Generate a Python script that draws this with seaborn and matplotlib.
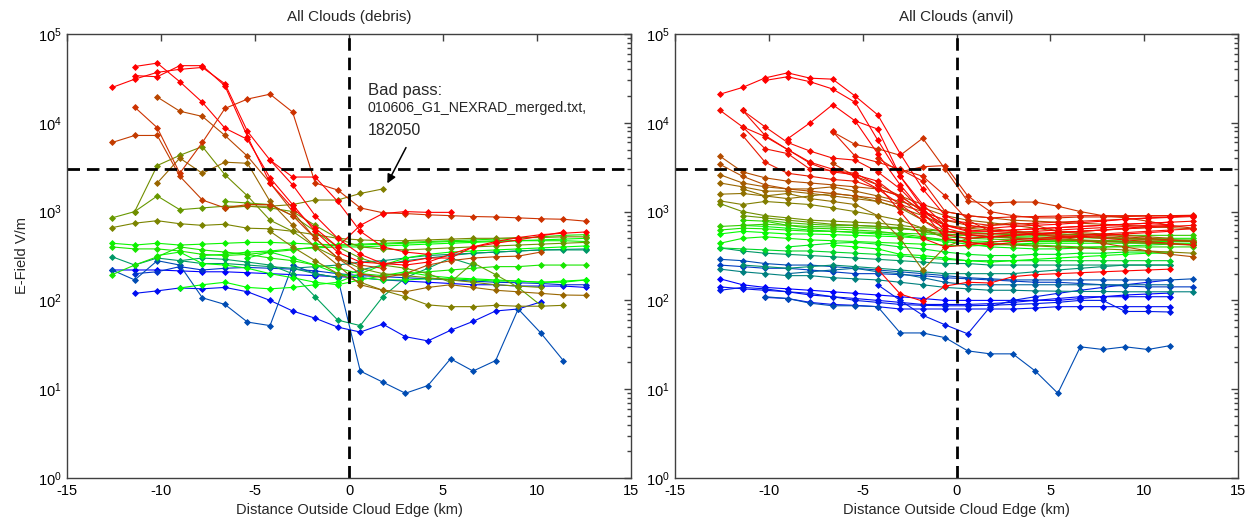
import numpy as np
import pandas as pd
import seaborn as sns
import matplotlib
matplotlib.use('Agg')
import matplotlib.pyplot as plt
from matplotlib.colors import LinearSegmentedColormap
from matplotlib.ticker import FixedLocator, FixedFormatter, NullFormatter

nan = np.nan

# distance bins (km), shared by every pass
x_km = [-12.6, -11.4, -10.2, -9.0, -7.8, -6.6, -5.4, -4.2, -3.0, -1.8, -0.6,
        0.6, 1.8, 3.0, 4.2, 5.4, 6.6, 7.8, 9.0, 10.2, 11.4, 12.6]

# ---- debris passes (E-field, V/m) ----
d01 = [25000, 31000, 37000, 40000, 42000, 27500, 8000, 3800, 2000, 900, 500, 330, 260, 250, 270, 330, 400, 460, 510, 550, 570, 590]
d02 = [nan, 43000, 47000, 29000, 17000, 8700, 6500, 2400, 1200, 600, 350, 270, 260, 270, 300, 300, 400, 440, 480, 530, 590, nan]
d03 = [nan, 34000, 33000, 44000, 44000, 26000, 7000, 2100, 1100, 650, 400, 700, 950, 1000, 980, 980, nan, nan, nan, nan, nan, nan]
d04 = [nan, 15000, 8800, 2700, 6000, 14500, 18500, 21000, 13200, 2100, 1750, 1100, 970, 950, 920, 900, 880, 870, 850, 830, 820, 780]
d05 = [6000, 7200, 7200, 2500, 1350, 1100, 1200, 1200, 900, 500, 300, 250, 230, nan, nan, nan, nan, nan, nan, nan, nan, nan]
d06 = [nan, nan, 19500, 13500, 11800, 7200, 4200, 2100, 1000, 500, 300, 200, 180, 200, 250, 280, 300, 310, 315, 350, nan, nan]
d07 = [nan, 1000, 3300, 4300, 5400, 2600, 1500, 800, 600, 400, 300, 230, 200, 190, 180, 170, 160, 150, 145, 140, nan, nan]
d08 = [nan, nan, 2100, 4000, 2700, 3600, 3500, 1300, 700, 400, 250, 150, 130, 125, 140, 150, 140, 130, 125, 120, 115, 114]
d09 = [nan, nan, nan, nan, nan, 1100, 1150, 1150, 1200, 1350, 1350, 1600, 1800, nan, nan, nan, nan, nan, nan, nan, nan, nan]
d10 = [850, 1000, 1500, 1050, 1100, 1150, 1150, 1100, 1000, 700, 500, 400, 380, 370, 380, 390, 400, 410, 420, 430, 440, 450]
d11 = [660, 740, 790, 730, 700, 720, 650, 640, 600, 550, 500, 480, 470, 470, 480, 490, 500, 500, 510, 510, 520, 520]
d12 = [440, 420, 440, 420, 430, 440, 450, 450, 440, 430, 420, 420, 430, 440, 450, 460, 460, 470, 470, 470, 470, 460]
d13 = [195, 250, 310, 400, 370, 350, 330, 300, 280, 250, 230, 200, 190, 200, 210, 220, 230, 240, 240, 250, 250, 250]
d14 = [nan, nan, 320, 350, 260, 250, 230, 200, 180, 160, 150, 170, 190, 210, 190, 180, 175, 170, 165, 160, 165, 170]
d15 = [nan, nan, nan, 138, 150, 160, 140, 135, 140, 150, 160, 200, 250, 300, 330, 350, 360, 370, 380, 390, 400, 410]
d16 = [310, 250, 300, 280, 260, 260, 250, 240, 230, 200, 180, 220, 250, 280, 300, 320, 340, 350, 360, 370, 370, 370]
d17 = [220, 220, 220, 215, 210, 210, 205, 200, 195, 190, 185, 180, 170, 165, 160, 155, 150, 150, 145, 145, 145, 140]
d18 = [nan, 120, 128, 138, 135, 140, 125, 100, 76, 63, 50, 44, 54, 39, 35, 46, 58, 76, 80, 96, nan, nan]
d19 = [220, 170, 280, 250, 107, 90, 57, 52, 250, 200, 180, 16, 12, 9, 11, 22, 16, 21, 80, 43, 21, nan]
d20 = [nan, 200, 210, 240, 220, 230, 235, 230, 225, 215, 200, 190, 185, 180, 175, 170, 165, 160, 158, 155, 150, 150]
d21 = [nan, nan, nan, 280, 300, 290, 270, 250, 200, 110, 60, 52, 110, 180, 230, 300, 250, nan, nan, nan, nan, nan]
d22 = [nan, nan, nan, nan, 320, 330, 350, 360, 380, 390, 400, 400, 410, 420, 430, 440, 450, 460, 470, 480, 490, 500]
d23 = [nan, nan, nan, nan, nan, 1300, 1250, 1200, 900, 600, 400, 300, 250, 230, 200, 160, 265, 195, 140, 88, nan, nan]
d24 = [nan, nan, nan, nan, nan, nan, nan, 600, 400, 280, 200, 160, 130, 110, 89, 85, 85, 88, 86, 86, 88, nan]
d25 = [nan, nan, nan, nan, nan, nan, 300, 350, 300, 250, 200, 180, 170, 170, 175, 175, 170, 165, 165, 160, 160, 170]
d26 = [400, 380, 380, 360, 330, 320, 330, 350, 370, 400, 420, 430, 440, 450, 460, 470, 480, 490, 500, 520, 540, 550]
d27 = [nan, nan, nan, nan, nan, nan, nan, 3800, 2450, 2450, 1300, 600, 400, 350, 330, nan, nan, nan, nan, nan, nan, nan]
d28 = [nan, nan, nan, nan, nan, nan, nan, nan, 230, 240, 250, 270, 280, 300, 320, 330, 340, 350, 360, 370, 375, 380]

debris = [d01, d02, d03, d04, d05, d06, d07, d08, d09, d10, d11, d12, d13, d14,
          d15, d16, d17, d18, d19, d20, d21, d22, d23, d24, d25, d26, d27, d28]
# colour position of each pass on the blue-green-red scale
debris_shade = [1.0, 1.0, 1.0, 0.9, 0.88, 0.86, 0.72, 0.8, 0.75, 0.7, 0.74, 0.52, 0.55, 0.5,
                0.5, 0.3, 0.0, 0.03, 0.15, 0.1, 0.32, 0.5, 0.68, 0.75, 0.48, 0.55, 1.0, 0.28]

# ---- anvil passes (E-field, V/m) ----
a01 = [21000, 25000, 32000, 36500, 31800, 31000, 20000, 12300, 4500, 1800, 900, 700, 650, 680, 700, 720, 750, 780, 820, 850, 870, 900]
a02 = [nan, nan, 30000, 33000, 29000, 24000, 17000, 6400, 2500, 1200, 700, 600, 600, 620, 640, 660, 680, 700, 720, 740, 760, nan]
a03 = [13800, 9000, 7000, 5000, 3600, 3000, 2500, 1800, 1200, 800, 550, 500, 520, 540, 560, 580, 600, 620, 640, 660, 680, 700]
a04 = [nan, 13800, 7200, 5000, 3500, 2800, 2600, 2200, 1400, 900, 650, 560, 560, 580, 600, 620, 640, 660, 680, 700, 720, nan]
a05 = [nan, nan, nan, 6600, 10000, 16000, 10500, 4500, 2000, 1000, 500, 450, 420, 450, 480, 500, 520, 540, 560, 580, 600, nan]
a06 = [nan, 9000, 5100, 4500, 3000, 2900, 2700, 2000, 1000, 500, 400, 420, 450, 480, 500, 520, 540, 560, 580, 600, 620, 640]
a07 = [nan, nan, nan, nan, nan, 7900, 5700, 5100, 4300, 6700, 3000, 1300, 1250, 1280, 1280, 1150, 1000, 900, 850, 780, 700, 650]
a08 = [nan, nan, nan, nan, nan, nan, 10500, 8500, 2500, 1100, 600, 550, 520, 540, 560, 580, 600, 620, 650, 680, 700, nan]
a09 = [nan, 7200, 3600, 2700, 2500, 2300, 2200, 1800, 1500, 1000, 800, 750, 700, 720, 740, 760, 780, 800, 820, 840, 860, 880]
a10 = [nan, nan, nan, nan, nan, 8000, 4200, 3600, 3000, 2200, 1000, 900, 850, 870, 880, 890, 900, 900, 900, 900, 900, 900]
a11 = [nan, nan, nan, nan, nan, nan, nan, 225, 118, 98, 145, 160, 157, 185, 195, 200, 205, 210, 215, 220, 225, nan]
a12 = [nan, nan, nan, nan, nan, nan, nan, nan, 3000, 2500, 1500, 800, 600, 580, 560, 540, 520, 500, 480, 460, 440, 420]
a13 = [nan, 13800, 9000, 6000, 4800, 4000, 3800, 2800, 1800, 1000, 700, 620, 600, 620, 640, 660, 680, 700, 720, 740, 760, 780]
a14 = [nan, nan, nan, nan, nan, nan, nan, 4000, 2800, 3200, 3300, 1500, 1000, 900, 850, 850, 870, 870, 880, 890, 900, 910]
a15 = [4200, 2800, 2400, 2200, 2100, 2000, 1900, 1800, 1500, 1200, 1000, 900, 850, 800, 780, 760, 740, 720, 700, 680, 660, 640]
a16 = [3400, 2500, 2000, 1800, 1700, 1600, 1500, 1400, 1200, 1000, 800, 700, 650, 600, 560, 520, 480, 440, 400, 360, 330, 310]
a17 = [2600, 2100, 1900, 1800, 1800, 1900, 1700, 1500, 1300, 1100, 900, 800, 750, 700, 650, 600, 580, 560, 540, 520, 500, nan]
a18 = [2100, 1900, 1700, 1700, 1600, 1500, 1400, 1300, 1100, 900, 700, 650, 620, 600, 580, 560, 540, 520, 500, 480, 470, 460]
a19 = [1570, 1600, 1500, 1400, 1500, 1600, 1500, 1300, 1100, 800, 600, 550, 520, 500, 490, 480, 470, 460, 450, 440, 430, 420]
a20 = [1320, 1200, 1300, 1250, 1200, 1100, 1000, 900, 800, 650, 500, 450, 430, 420, 410, 400, 390, 380, 370, 360, 350, 340]
a21 = [nan, 1800, 1500, 1600, 1400, 1300, 1200, 900, 500, 220, 400, 500, 520, 540, 560, 580, 600, 620, 640, 660, 680, nan]
a22 = [1230, 1000, 900, 850, 800, 780, 760, 740, 700, 650, 600, 580, 560, 550, 540, 530, 520, 510, 500, 490, 480, 470]
a23 = [nan, 900, 850, 800, 760, 720, 700, 680, 650, 600, 560, 540, 520, 510, 500, 490, 480, 470, 460, 450, 440, nan]
a24 = [nan, nan, nan, nan, nan, 3500, 2500, 2000, 1500, 1000, 700, 650, 700, 750, 700, 600, 560, 540, 520, 500, 480, 460]
a25 = [680, 700, 720, 700, 680, 670, 660, 650, 640, 620, 600, 580, 570, 560, 560, 560, 550, 550, 540, 540, 540, 540]
a26 = [620, 650, 640, 620, 600, 600, 590, 580, 570, 560, 550, 540, 530, 520, 520, 510, 510, 500, 500, 500, 500, 500]
a27 = [560, 600, 580, 560, 560, 550, 540, 530, 520, 500, 480, 470, 460, 460, 460, 460, 460, 460, 460, 460, 460, 460]
a28 = [440, 500, 520, 500, 480, 470, 460, 450, 440, 430, 420, 410, 420, 430, 440, 440, 440, 440, 440, 440, 440, 440]
a29 = [nan, 700, 680, 650, 620, 600, 580, 560, 540, 500, 460, 430, 400, 390, 380, 380, 390, 400, 410, 420, 430, 430]
a30 = [nan, nan, 800, 750, 720, 700, 700, 680, 660, 600, 520, 500, 490, 480, 470, 470, 470, 470, 480, 480, 480, 480]
a31 = [nan, nan, nan, 400, 420, 440, 450, 430, 400, 380, 350, 330, 320, 320, 330, 330, 340, 340, 350, 350, 350, nan]
a32 = [nan, nan, nan, nan, nan, 420, 400, 380, 330, 320, 300, 280, 270, 280, 290, 300, 310, 320, 330, 340, 340, nan]
a33 = [nan, 800, 780, 700, 650, 640, 620, 600, 560, 520, 480, 450, 440, 430, 420, 410, 400, 400, 400, 400, 400, 400]
a34 = [390, 380, 370, 360, 360, 350, 340, 330, 320, 300, 290, 280, 280, 280, 280, 280, 280, 280, 280, 280, 280, nan]
a35 = [390, 360, 340, 330, 320, 310, 300, 290, 280, 270, 260, 260, 250, 250, 250, 250, 250, 250, 250, 250, 250, nan]
a36 = [290, 280, 260, 250, 250, 240, 230, 220, 210, 200, 190, 180, 175, 170, 170, 170, 170, 170, 170, 170, 170, 175]
a37 = [250, 240, 230, 230, 220, 210, 200, 200, 195, 190, 180, 175, 170, 165, 160, 160, 155, 150, 145, 142, 142, 142]
a38 = [225, 210, 200, 190, 190, 180, 175, 170, 160, 150, 140, 135, 130, 130, 128, 127, 126, 126, 125, 125, 125, 125]
a39 = [175, 150, 140, 135, 130, 125, 120, 115, 110, 105, 100, 100, 100, 100, 100, 100, 105, 110, 115, 118, 121, nan]
a40 = [142, 135, 130, 125, 115, 110, 105, 100, 95, 90, 90, 90, 92, 95, 100, 105, 110, 110, 110, 110, 110, nan]
a41 = [130, 140, 135, 125, 120, 110, 100, 95, 90, 88, 87, 87, 88, 90, 92, 95, 100, 100, 75, 75, 74, nan]
a42 = [nan, nan, 108, 105, 95, 90, 88, 85, 80, 80, 80, 80, 80, 80, 82, 85, 85, 85, 85, 85, 85, nan]
a43 = [nan, nan, 110, 105, 93, 87, 87, 85, 43, 43, 38, 27, 25, 25, 16, 9, 30, 28, 30, 28, 31, nan]
a44 = [nan, nan, nan, nan, nan, nan, nan, 150, 100, 68, 53, 42, 85, 100, 110, 120, 130, 140, 150, 160, 170, nan]
a45 = [nan, nan, nan, 200, 210, 220, 230, 210, 200, 180, 160, 150, 150, 150, 150, 150, 150, 150, 150, 150, 150, nan]
a46 = [nan, 250, 240, 230, 240, 250, 240, 230, 220, 210, 200, 200, 200, 200, 210, 220, 230, 240, 250, 250, 250, nan]

anvil = [a01, a02, a03, a04, a05, a06, a07, a08, a09, a10, a11, a12, a13, a14, a15, a16,
         a17, a18, a19, a20, a21, a22, a23, a24, a25, a26, a27, a28, a29, a30, a31, a32,
         a33, a34, a35, a36, a37, a38, a39, a40, a41, a42, a43, a44, a45, a46]
anvil_shade = [1.0, 1.0, 0.98, 0.98, 1.0, 0.97, 0.9, 1.0, 0.95, 0.95, 1.0, 0.93, 0.98, 0.92,
               0.85, 0.85, 0.82, 0.8, 0.78, 0.75, 0.78, 0.72, 0.7, 0.88,
               0.6, 0.55, 0.5, 0.52, 0.48, 0.62, 0.45, 0.5, 0.58, 0.42,
               0.3, 0.15, 0.12, 0.25, 0.0, 0.02, 0.05, 0.03, 0.15, 0.05, 0.2, 0.28]

y_ticks = [1, 10, 100, 1000, 10000, 100000]
y_labels = [r'$\mathregular{10^{%d}}$' % k for k in range(6)]

sns.set_theme(style='white')
plt.rcParams['font.family'] = ['Liberation Sans', 'DejaVu Sans']
plt.rcParams['axes.edgecolor'] = '#404040'
plt.rcParams['axes.linewidth'] = 1.0

bgr = LinearSegmentedColormap.from_list('bgr', ['#0000ff', '#00ff00', '#ff0000'])


def draw_panel(ax, passes, shades, title):
    rows = []
    for i, vals in enumerate(passes):
        for xv, yv in zip(x_km, vals):
            if not np.isnan(yv):
                rows.append((i, xv, yv))
    df = pd.DataFrame(rows, columns=['pass', 'km', 'efield'])
    pal = {i: bgr(t) for i, t in enumerate(shades)}
    order = sorted(range(len(passes)), key=lambda i: shades[i])
    sns.lineplot(data=df, x='km', y='efield', hue='pass', hue_order=order, palette=pal,
                 estimator=None, sort=False, marker='D', markersize=3.0,
                 linewidth=0.8, legend=False, ax=ax)
    for ln in ax.lines:
        ln.set_markeredgecolor(ln.get_color())
        ln.set_markeredgewidth(0.6)

    ax.set_yscale('log')
    ax.set_xlim(-15, 15)
    ax.set_ylim(1, 1e5)
    ax.set_xticks(range(-15, 16, 5))
    ax.set_xticklabels([str(v) for v in range(-15, 16, 5)])
    ax.yaxis.set_major_locator(FixedLocator(y_ticks))
    ax.yaxis.set_major_formatter(FixedFormatter(y_labels))
    minors = [m * 10 ** k for k in range(5) for m in range(2, 10)]
    ax.yaxis.set_minor_locator(FixedLocator(minors))
    ax.yaxis.set_minor_formatter(NullFormatter())
    ax.tick_params(which='both', direction='in', top=True, right=True,
                   colors='#404040', labelcolor='black', labelsize=10.5, width=1)
    ax.tick_params(which='major', length=5, pad=4)
    ax.tick_params(which='minor', length=3)

    ax.axvline(0, color='black', lw=2, ls=(0, (4.5, 2.5)))
    ax.axhline(3000, color='black', lw=2, ls=(0, (4.5, 2.5)))

    ax.set_title(title, fontsize=11, pad=9)
    ax.set_xlabel('Distance Outside Cloud Edge (km)', fontsize=10.5, labelpad=4)
    ax.set_ylabel('')


fig = plt.figure(figsize=(12.5, 5.27), dpi=100)
ax1 = fig.add_axes([0.0536, 0.093, 0.4512, 0.8425])
ax2 = fig.add_axes([0.54, 0.093, 0.4504, 0.8425])

draw_panel(ax1, debris, debris_shade, 'All Clouds (debris)')
draw_panel(ax2, anvil, anvil_shade, 'All Clouds (anvil)')
ax1.set_ylabel('E-Field V/m', fontsize=10.5, labelpad=6)

# note on the suspect pass
ax1.text(1.0, 23400, 'Bad pass:', fontsize=12, va='center')
ax1.text(1.0, 14700, '010606_G1_NEXRAD_merged.txt,', fontsize=10.2, va='center')
ax1.text(1.0, 8100, '182050', fontsize=11.5, va='center')
ax1.annotate('', xy=(1.97, 1950), xytext=(3.1, 5600),
             arrowprops=dict(arrowstyle='-|>', color='black', lw=1.1, mutation_scale=13))

fig.savefig('out.png', dpi=100, facecolor='white')
